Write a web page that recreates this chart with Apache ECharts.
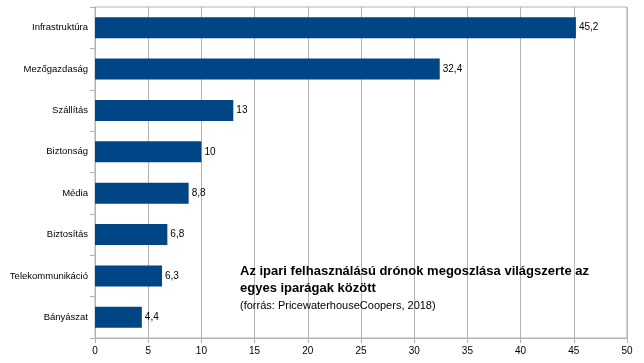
<!DOCTYPE html>
<html>
<head>
<meta charset="utf-8">
<script src="https://cdn.jsdelivr.net/npm/echarts@6/dist/echarts.min.js"></script>
<style>html,body{margin:0;padding:0;background:#fff;}#c{width:644px;height:363px;}</style>
</head>
<body>
<div id="c"></div>
<script>
const categories = ['Infrastruktúra','Mezőgazdaság','Szállítás','Biztonság','Média','Biztosítás','Telekommunikáció','Bányászat'];
const values = [45.2, 32.4, 13, 10, 8.8, 6.8, 6.3, 4.4];
const titleLines = ['Az ipari felhasználású drónok megoszlása világszerte az', 'egyes iparágak között'];
const subtitle = '(forrás: PricewaterhouseCoopers, 2018)';

const chart = echarts.init(document.getElementById('c'), null, {renderer: 'canvas'});
chart.setOption({
  animation: false,
  backgroundColor: '#fff',
  textStyle: {fontFamily: 'Liberation Sans, Arial, sans-serif'},
  grid: {left: 95, right: 17, top: 7, bottom: 25, show: true, borderColor: '#b3b3b3', borderWidth: 1},
  title: {
    text: titleLines.join('\n'),
    subtext: subtitle,
    left: 240, top: 263,
    itemGap: 2,
    padding: 0,
    textStyle: {fontSize: 13, fontWeight: 'bold', color: '#000', lineHeight: 17, fontFamily: 'Liberation Sans, Arial, sans-serif'},
    subtextStyle: {fontSize: 11, color: '#000', lineHeight: 13, fontFamily: 'Liberation Sans, Arial, sans-serif'}
  },
  xAxis: {
    type: 'value', min: 0, max: 50, interval: 5,
    axisLine: {show: true, lineStyle: {color: '#b3b3b3'}},
    axisTick: {show: true, length: 5, lineStyle: {color: '#b3b3b3'}},
    axisLabel: {color: '#000', fontSize: 10, margin: 8},
    splitLine: {show: true, lineStyle: {color: '#b3b3b3'}}
  },
  yAxis: {
    type: 'category', data: categories, inverse: true,
    axisLine: {show: true, lineStyle: {color: '#b3b3b3'}},
    axisTick: {show: true, length: 5, lineStyle: {color: '#b3b3b3'}},
    axisLabel: {color: '#000', fontSize: 9.5, margin: 7},
    splitLine: {show: false}
  },
  series: [{
    type: 'bar', data: values,
    barCategoryGap: '49%',
    itemStyle: {color: '#004586'},
    label: {show: true, position: 'right', distance: 3, color: '#000', fontSize: 10,
      formatter: p => String(p.value).replace('.', ',')}
  }]
});
</script>
</body>
</html>
